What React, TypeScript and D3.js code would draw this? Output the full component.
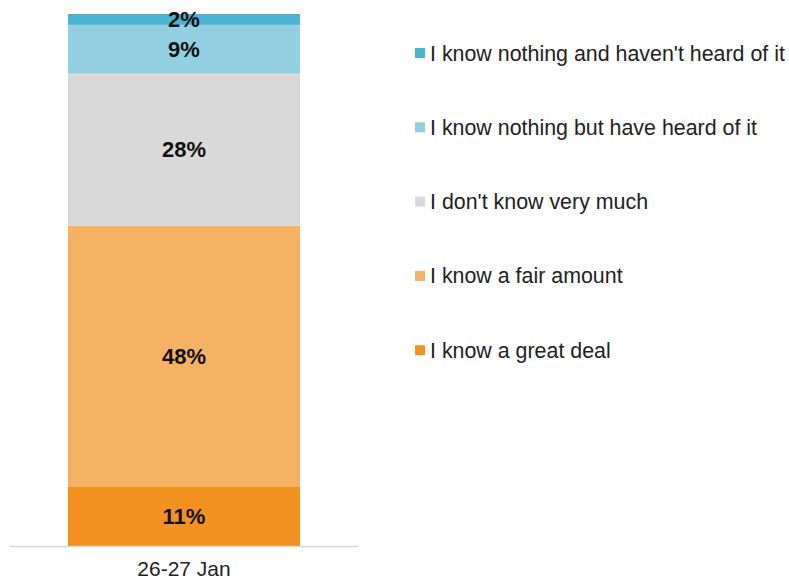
import React from "react";
import * as d3 from "d3";

const categories = ["26-27 Jan"];
const seriesNames = [
  "I know a great deal",
  "I know a fair amount",
  "I don't know very much",
  "I know nothing but have heard of it",
  "I know nothing and haven't heard of it",
];
const seriesValues = [11, 48, 28, 9, 2];
const seriesColors = ["#F39220", "#F6B263", "#D9D9D9", "#92D0E1", "#4BB5D1"];

const W = 789;
const H = 580;

export default function App() {
  const total = d3.sum(seriesValues);
  const x = d3.scaleBand<string>().domain(categories).range([10, 358]).padding(0.2);
  const y = d3.scaleLinear().domain([0, total]).range([546, 14]);
  const stackData = [Object.fromEntries(seriesNames.map((n, i) => [n, seriesValues[i]]))];
  const stacked = d3.stack<any>().keys(seriesNames)(stackData as any);
  const legendOrder = [...seriesNames.keys()].reverse();
  const font = "'Liberation Sans', Arial, sans-serif";
  return (
    <svg width={W} height={H} style={{ position: "absolute", left: 0, top: 0 }} fontFamily={font}>
      {stacked.map((s, i) =>
        s.map((d, j) => (
          <g key={`${i}-${j}`}>
            <rect
              x={x(categories[j])!}
              width={x.bandwidth()}
              y={y(d[1])}
              height={y(d[0]) - y(d[1])}
              fill={seriesColors[i]}
            />
            <text
              x={x(categories[j])! + x.bandwidth() / 2}
              y={(y(d[0]) + y(d[1])) / 2}
              dy="0.35em"
              textAnchor="middle"
              fontWeight="bold"
              fontSize={22}
              fill="#111"
            >
              {seriesValues[i]}%
            </text>
          </g>
        ))
      )}
      <line x1={10} x2={358} y1={546.5} y2={546.5} stroke="#D9D9D9" strokeWidth={1.5} />
      {categories.map((c) => (
        <text key={c} x={x(c)! + x.bandwidth() / 2} y={575.5} textAnchor="middle" fontSize={21} fill="#222">
          {c}
        </text>
      ))}
      {legendOrder.map((i, k) => (
        <g key={i} transform={`translate(415, ${53 + k * 74.3})`}>
          <rect x={0} y={-5} width={10} height={10} fill={seriesColors[i]} />
          <text x={15} y={0} dy="0.35em" fontSize={21.4} fill="#222">
            {seriesNames[i]}
          </text>
        </g>
      ))}
    </svg>
  );
}
